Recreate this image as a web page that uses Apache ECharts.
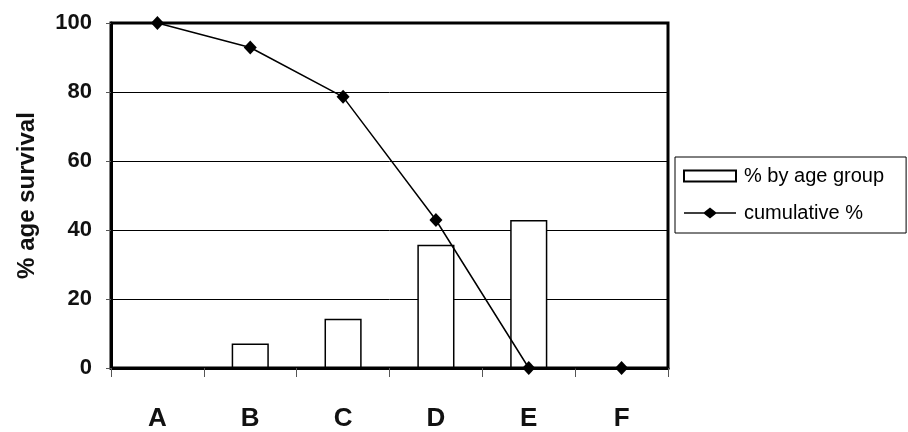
<!DOCTYPE html>
<html>
<head>
<meta charset="utf-8">
<script src="https://cdn.jsdelivr.net/npm/echarts@6/dist/echarts.min.js"></script>
<style>
html,body{margin:0;padding:0;background:#fff;}
#chart{width:908px;height:432px;}
</style>
</head>
<body>
<div id="chart"></div>
<script>
const categories = ['A', 'B', 'C', 'D', 'E', 'F'];
const byAgeGroup = [0, 7.1, 14.3, 35.7, 42.9, 0];
const cumulative = [100, 92.9, 78.6, 42.9, 0, 0];
const yAxisName = '% age survival';
const seriesNames = ['% by age group', 'cumulative %'];

const FONT = 'Liberation Sans, Arial, sans-serif';
const chart = echarts.init(document.getElementById('chart'), null, {renderer: 'canvas'});
chart.setOption({
  backgroundColor: '#fff',
  animation: false,
  grid: {
    left: 111, right: 240, top: 23, bottom: 63,
    show: true, borderColor: '#000', borderWidth: 3, backgroundColor: 'transparent'
  },
  legend: {
    orient: 'vertical',
    left: 675, top: 157,
    padding: [9, 22, 10, 8],
    itemGap: 17,
    itemWidth: 52, itemHeight: 11,
    borderColor: '#000', borderWidth: 1,
    textStyle: {fontFamily: FONT, fontSize: 20, color: '#000', padding: [0, 0, 0, 3]},
    data: [
      {name: seriesNames[0], icon: 'rect'},
      {name: seriesNames[1], icon: 'path://M0,4.8 L20,4.8 L26,0 L32,4.8 L52,4.8 L52,6.2 L32,6.2 L26,11 L20,6.2 L0,6.2 Z', itemStyle: {color: '#000', borderWidth: 0}}
    ]
  },
  xAxis: {
    type: 'category',
    data: categories,
    boundaryGap: true,
    axisLine: {show: true, lineStyle: {color: '#000', width: 3}},
    axisTick: {show: true, inside: false, length: 9, alignWithLabel: false, lineStyle: {color: '#555', width: 1}},
    axisLabel: {margin: 38, fontFamily: FONT, fontSize: 26, fontWeight: 'bold', color: '#111'},
    splitLine: {show: false}
  },
  yAxis: {
    type: 'value',
    min: 0, max: 100, interval: 20,
    name: yAxisName,
    nameLocation: 'middle',
    nameRotate: 90,
    nameGap: 72,
    nameTextStyle: {fontFamily: FONT, fontSize: 24, fontWeight: 'bold', color: '#111'},
    axisLine: {show: true, lineStyle: {color: '#000', width: 3}},
    axisTick: {show: true, inside: false, length: 5, lineStyle: {color: '#555', width: 1}},
    axisLabel: {margin: 19, fontFamily: FONT, fontSize: 22, fontWeight: 'bold', color: '#111'},
    splitLine: {show: true, lineStyle: {color: '#000', width: 1}}
  },
  series: [
    {
      name: seriesNames[0],
      type: 'bar',
      data: byAgeGroup,
      barWidth: '40%',
      itemStyle: {color: '#fff', borderColor: '#000', borderWidth: 1.5},
      z: 2
    },
    {
      name: seriesNames[1],
      type: 'line',
      data: cumulative,
      symbol: 'diamond',
      symbolSize: [13, 14],
      lineStyle: {color: '#000', width: 1.5},
      itemStyle: {color: '#000'},
      z: 3
    }
  ]
});
</script>
</body>
</html>
